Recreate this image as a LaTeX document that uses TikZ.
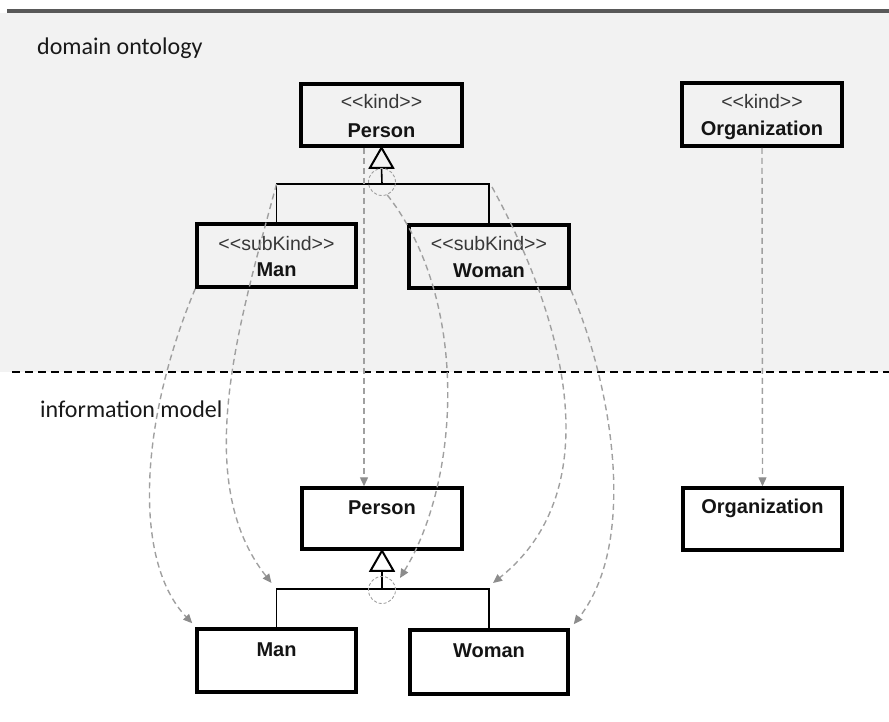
\documentclass[tikz,border=0pt]{standalone}
\usepackage{fontspec}
\setmainfont{Liberation Sans}
\newfontfamily\umlfont{Liberation Sans}
\newfontfamily\labfont{Carlito}
\usetikzlibrary{arrows.meta,calc}
\definecolor{bggray}{HTML}{F2F2F2}
\definecolor{topline}{HTML}{595959}
\definecolor{mapgray}{HTML}{A0A0A0}
\definecolor{tipgray}{HTML}{8C8C8C}
\newcommand\umlst[1]{<\kern0pt<#1>\kern0pt>}
\begin{document}
\begin{tikzpicture}[x=1pt,y=-1pt,
  umlbox/.style={draw=black, line width=3.5pt, inner sep=0pt},
  stereo/.style={font=\umlfont\fontsize{19.5}{21}\selectfont, text=black!78, inner sep=0pt},
  cname/.style={font=\umlfont\bfseries\fontsize{20}{22}\selectfont, text=black!92, inner sep=0pt},
  seclabel/.style={font=\labfont\fontsize{24}{26}\selectfont, text=black!90, anchor=west, inner sep=0pt},
  genline/.style={draw=black, line width=1.6pt},
  gentri/.style={draw=black, line width=2pt, line join=miter},
  gencirc/.style={circle, draw=mapgray, dashed, dash pattern=on 3pt off 2pt, line width=0.9pt, minimum size=27pt, inner sep=0pt},
  map/.style={draw=mapgray, dash pattern=on 6pt off 4pt, line width=1.4pt,
    -{Triangle[length=9pt,width=8pt,color=tipgray,fill=tipgray]}}
]
\useasboundingbox (0,0) rectangle (889,721);
% regions
\fill[bggray] (0,13) rectangle (889,372);
\draw[topline, line width=4pt] (7,11) -- (889,11);
\draw[black, line width=1.5pt, dash pattern=on 8pt off 5pt] (12,372) -- (889,372);
\node[seclabel] (lab1) at (37,48) {domain ontology};
\node[seclabel] (lab2) at (40,409) {information model};

% domain ontology boxes
\node[umlbox, minimum width=161pt, minimum height=62pt] (pk) at (381.5,115) {};
\node[stereo] (pk-s) at (381.5,102) {\umlst{kind}};
\node[cname] (pk-n) at (381.5,131) {Person};
\node[umlbox, minimum width=160pt, minimum height=63pt] (ok) at (762,114.5) {};
\node[stereo] (ok-s) at (762,102) {\umlst{kind}};
\node[cname] (ok-n) at (762,130) {Organization};
\node[umlbox, minimum width=159pt, minimum height=63pt] (mk) at (276.5,255.5) {};
\node[stereo] (mk-s) at (276.5,244) {\umlst{subKind}};
\node[cname] (mk-n) at (276.5,270) {Man};
\node[umlbox, minimum width=160pt, minimum height=63pt] (wk) at (489,256.5) {};
\node[stereo] (wk-s) at (489,244) {\umlst{subKind}};
\node[cname] (wk-n) at (489,271) {Woman};

% information model boxes
\node[umlbox, minimum width=160pt, minimum height=61pt] (pi) at (382,518.5) {};
\node[cname] (pi-n) at (382,508) {Person};
\node[umlbox, minimum width=159pt, minimum height=62pt] (oi) at (762.5,519) {};
\node[cname] (oi-n) at (762.5,508) {Organization};
\node[umlbox, minimum width=159pt, minimum height=63pt] (mi) at (276.5,660.5) {};
\node[cname] (mi-n) at (276.5,650) {Man};
\node[umlbox, minimum width=158pt, minimum height=64pt] (wi) at (489,662) {};
\node[cname] (wi-n) at (489,651) {Woman};

% generalization (domain)
\coordinate (gk) at (382,184);
\coordinate (gkl) at (mk.north |- gk);
\coordinate (gkr) at (wk.north |- gk);
\draw[genline] (mk.north) -- (gkl) -- (gkr) -- (wk.north);
\draw[genline] (gk) -- ($(pk.south)+(0,20)$);
\draw[gentri, fill=bggray] (pk.south) -- ++(-11.5,20) -- ++(23,0) -- cycle;
\node[gencirc] (ck) at (382,182) {};

% generalization (information model)
\coordinate (gi) at (382,589);
\coordinate (gil) at (mi.north |- gi);
\coordinate (gir) at (wi.north |- gi);
\draw[genline] (mi.north) -- (gil) -- (gir) -- (wi.north);
\draw[genline] (gi) -- ($(pi.south)+(0,20)$);
\draw[gentri, fill=white] (pi.south) -- ++(-11.5,20) -- ++(23,0) -- cycle;
\node[gencirc] (ci) at (382,590) {};

% mapping arrows
\draw[map] ([xshift=-17.5pt]pk.south) -- ([xshift=-18pt]pi.north);
\draw[map] (ok.south) -- (oi.north);
\draw[map] (mk.south west) .. controls (140,420) and (132,560) .. ([shift={(-3,-4)}]mi.north west);
\draw[map] (gkl) .. controls (240,320) and (190,480) .. ([shift={(-5,-6)}]gil);
\draw[map] (ck.-68) .. controls (470,300) and (460,480) .. ([shift={(18,-12)}]ci.center);
\draw[map] ([shift={(3,3)}]gkr) .. controls (565,320) and (610,490) .. ([shift={(4,-6)}]gir);
\draw[map] (wk.south east) .. controls (610,380) and (640,540) .. ([shift={(4,-4)}]wi.north east);
\end{tikzpicture}
\end{document}
